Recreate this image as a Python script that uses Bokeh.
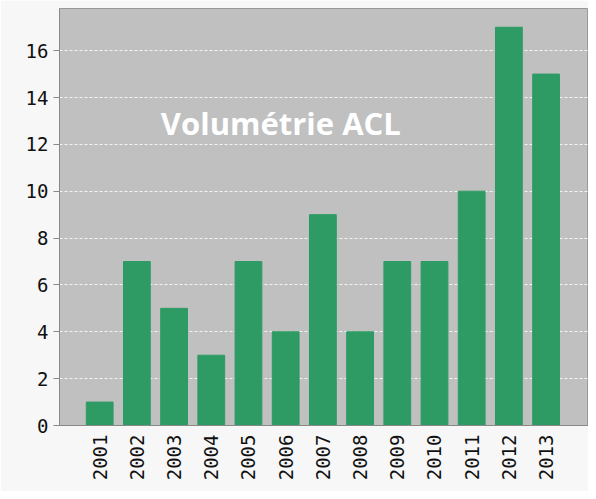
from bokeh.plotting import figure
from bokeh.models import Range1d, FixedTicker, Label
from bokeh.embed import file_html
from bokeh.resources import INLINE
import math

years = [2001, 2002, 2003, 2004, 2005, 2006, 2007, 2008, 2009, 2010, 2011, 2012, 2013]
values = [1, 7, 5, 3, 7, 4, 9, 4, 7, 7, 10, 17, 15]
y_ticks = [0, 2, 4, 6, 8, 10, 12, 14, 16]
title_text = "Volumétrie ACL"

p = figure(width=588, height=491, output_backend="svg", toolbar_location=None,
           x_range=Range1d(1999.92, 2014.14), y_range=Range1d(0, 17.8),
           min_border_left=59, min_border_right=0, min_border_top=8, min_border_bottom=66)

p.background_fill_color = "#c0c0c0"
p.border_fill_color = "#f7f7f7"
p.outline_line_color = "#999999"

p.vbar(x=years, top=values, width=0.72, bottom=0, fill_color="#2e9b64", line_color="#2e9b64")

p.xgrid.grid_line_color = None
p.ygrid.ticker = FixedTicker(ticks=y_ticks)
p.ygrid.grid_line_color = "white"
p.ygrid.grid_line_alpha = 0.8
p.ygrid.grid_line_dash = "3 2"

p.yaxis.ticker = FixedTicker(ticks=y_ticks)
p.yaxis.major_label_text_font = "DejaVu Sans Mono"
p.yaxis.major_label_text_font_size = "19px"
p.yaxis.major_label_text_color = "#111111"
p.yaxis.major_tick_out = 6
p.yaxis.major_tick_in = 0
p.yaxis.minor_tick_line_color = None
p.yaxis.axis_line_color = "#888888"
p.yaxis.major_tick_line_color = "#888888"
p.yaxis.major_label_standoff = 5

p.xaxis.ticker = FixedTicker(ticks=years)
p.xaxis.major_label_orientation = math.pi / 2
p.xaxis.major_label_text_font = "DejaVu Sans Mono"
p.xaxis.major_label_text_font_size = "19px"
p.xaxis.major_label_text_color = "#111111"
p.xaxis.major_tick_out = 0
p.xaxis.major_tick_in = 0
p.xaxis.minor_tick_line_color = None
p.xaxis.axis_line_color = "#888888"
p.xaxis.major_label_standoff = 9

lbl = Label(x=2005.87, y=12.9, text=title_text, text_color="white",
            text_font="Open Sans", text_font_style="bold", text_font_size="31px",
            text_align="center", text_baseline="middle")
p.add_layout(lbl)

open("out.html", "w").write(file_html(p, INLINE))
